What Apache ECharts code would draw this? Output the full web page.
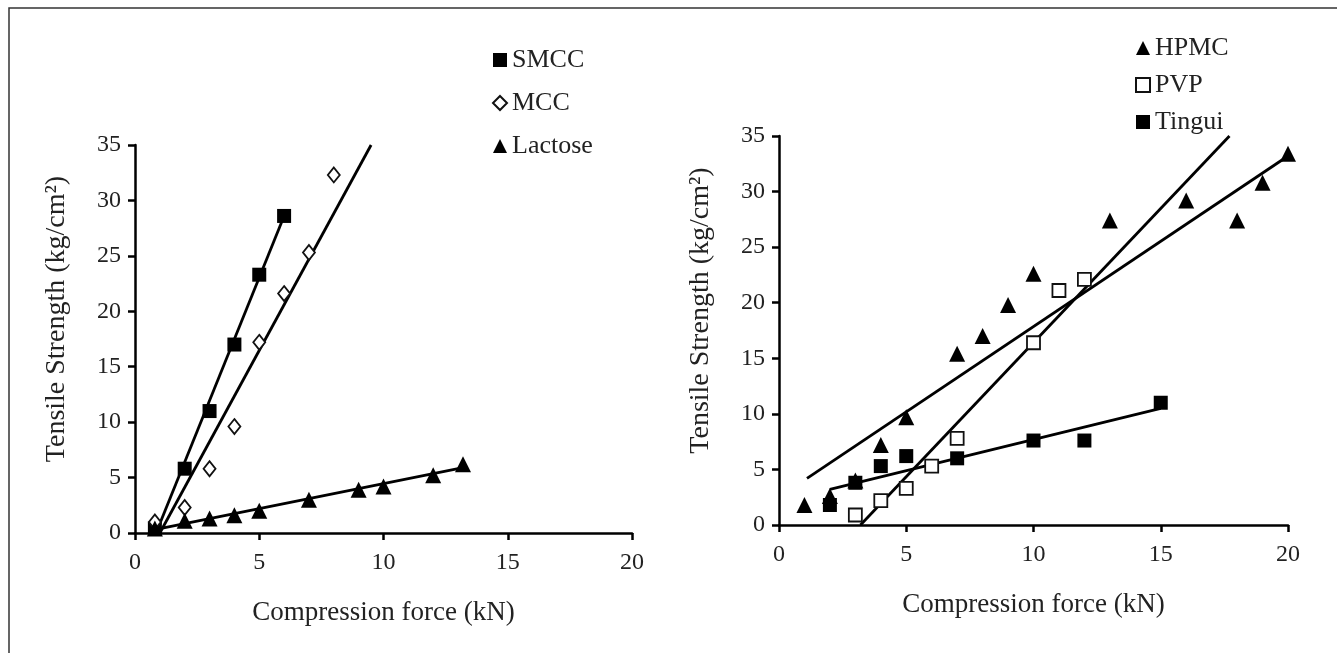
<!DOCTYPE html>
<html>
<head>
<meta charset="utf-8">
<script src="https://cdn.jsdelivr.net/npm/echarts@6/dist/echarts.min.js"></script>
<style>
html,body{margin:0;padding:0;background:#fff;}
#c{width:1337px;height:653px;}
</style>
</head>
<body>
<div id="c"></div>
<script>
// ---- Data ----
const xTicks = [0, 5, 10, 15, 20];
const yTicks = [0, 5, 10, 15, 20, 25, 30, 35];

// Left panel
const smcc    = [[0.8, 0.4], [2, 5.8], [3, 11.0], [4, 17.0], [5, 23.3], [6, 28.6]];
const mcc     = [[0.8, 1.0], [2, 2.3], [3, 5.8], [4, 9.6], [5, 17.2], [6, 21.6], [7, 25.3], [8, 32.3]];
const lactose = [[0.8, 0.4], [2, 1.1], [3, 1.3], [4, 1.6], [5, 2.0], [7, 3.0], [9, 3.9], [10, 4.2], [12, 5.2], [13.2, 6.2]];
const smccFit    = [[0.9, 0.3], [6, 28.6]];
const mccFit     = [[1.0, 0], [9.5, 35]];
const lactoseFit = [[0.8, 0.3], [13.2, 5.9]];

// Right panel
const hpmc   = [[1, 1.8], [2, 2.6], [3, 4.0], [4, 7.2], [5, 9.7], [7, 15.4], [8, 17.0], [9, 19.8], [10, 22.6], [13, 27.4], [16, 29.2], [18, 27.4], [19, 30.8], [20, 33.4]];
const pvp    = [[3, 0.9], [4, 2.2], [5, 3.3], [6, 5.3], [7, 7.8], [10, 16.4], [11, 21.1], [12, 22.1]];
const tingui = [[2, 1.8], [3, 3.8], [4, 5.3], [5, 6.2], [7, 6.0], [10, 7.6], [12, 7.6], [15, 11.0]];
const hpmcFit   = [[1.1, 4.2], [20, 33.2]];
const pvpFit    = [[3.2, 0], [17.7, 35]];
const tinguiFit = [[2, 3.2], [15, 10.5]];

const xName = 'Compression force (kN)';
const yName = 'Tensile Strength (kg/cm²)';

// ---- Styling ----
const FONT = '"Liberation Serif", "DejaVu Serif", serif';
const INK = '#000';
const TXT = '#222';

function xAxisCfg(gridIndex, gap) {
  return {
    gridIndex, type: 'value', min: xTicks[0], max: xTicks[xTicks.length - 1], interval: xTicks[1] - xTicks[0],
    name: xName, nameLocation: 'middle', nameGap: gap,
    nameTextStyle: { fontFamily: FONT, fontSize: 27, color: TXT },
    axisLine: { show: true, onZero: false, lineStyle: { color: INK, width: 2.5 } },
    axisTick: { show: true, inside: false, length: 7, lineStyle: { color: INK, width: 2.5 } },
    axisLabel: { fontFamily: FONT, fontSize: 24, color: TXT, margin: 18 },
    splitLine: { show: false }
  };
}
function yAxisCfg(gridIndex, gap) {
  return {
    gridIndex, type: 'value', min: yTicks[0], max: yTicks[yTicks.length - 1], interval: yTicks[1] - yTicks[0],
    name: yName, nameLocation: 'middle', nameGap: gap, nameRotate: 90,
    nameTextStyle: { fontFamily: FONT, fontSize: 28, color: TXT, padding: [0, 0, 0, 40] },
    axisLine: { show: true, onZero: false, lineStyle: { color: INK, width: 2.5 } },
    axisTick: { show: true, inside: false, length: 7, lineStyle: { color: INK, width: 2.5 } },
    axisLabel: { fontFamily: FONT, fontSize: 24, color: TXT, margin: 14 },
    splitLine: { show: false }
  };
}

const filled = { color: INK, opacity: 1 };
const hollow = { color: '#fff', borderColor: '#111', borderWidth: 1.8, opacity: 1 };

function scatter(name, data, idx, symbol, size, style) {
  return { name, type: 'scatter', xAxisIndex: idx, yAxisIndex: idx, data, symbol, symbolSize: size,
    itemStyle: style, z: 3, silent: true };
}
function fit(data, idx) {
  return { type: 'line', xAxisIndex: idx, yAxisIndex: idx, data, symbol: 'none',
    lineStyle: { color: INK, width: 2.8 }, z: 2, silent: true, clip: true };
}

const tri = 'triangle';
const option = {
  animation: false,
  backgroundColor: '#fff',
  grid: [
    { left: 135, top: 145, width: 497, height: 388 },
    { left: 779, top: 136, width: 509, height: 389 }
  ],
  xAxis: [xAxisCfg(0, 66), xAxisCfg(1, 66)],
  yAxis: [yAxisCfg(0, 64), yAxisCfg(1, 64)],
  legend: [
    { data: ['SMCC', 'MCC', 'Lactose'], orient: 'vertical', left: 487, top: 42, itemGap: 17,
      itemWidth: 14, itemHeight: 14, textStyle: { fontFamily: FONT, fontSize: 26, color: TXT }, selectedMode: false },
    { data: ['HPMC', 'PVP', 'Tingui'], orient: 'vertical', left: 1130, top: 30, itemGap: 11,
      itemWidth: 14, itemHeight: 14, textStyle: { fontFamily: FONT, fontSize: 26, color: TXT }, selectedMode: false }
  ],
  graphic: [
    { type: 'rect', shape: { x: 9, y: 8, width: 1400, height: 700 }, style: { fill: 'none', stroke: '#333', lineWidth: 1.5 }, silent: true }
  ],
  series: [
    fit(smccFit, 0), fit(mccFit, 0), fit(lactoseFit, 0),
    scatter('SMCC', smcc, 0, 'rect', 14, filled),
    scatter('MCC', mcc, 0, 'diamond', [12, 15], hollow),
    scatter('Lactose', lactose, 0, tri, 16, filled),
    fit(hpmcFit, 1), fit(pvpFit, 1), fit(tinguiFit, 1),
    scatter('HPMC', hpmc, 1, tri, 16, filled),
    scatter('PVP', pvp, 1, 'rect', 13, hollow),
    scatter('Tingui', tingui, 1, 'rect', 14, filled)
  ]
};

const chart = echarts.init(document.getElementById('c'), null, { renderer: 'canvas' });
chart.setOption(option);
</script>
</body>
</html>
